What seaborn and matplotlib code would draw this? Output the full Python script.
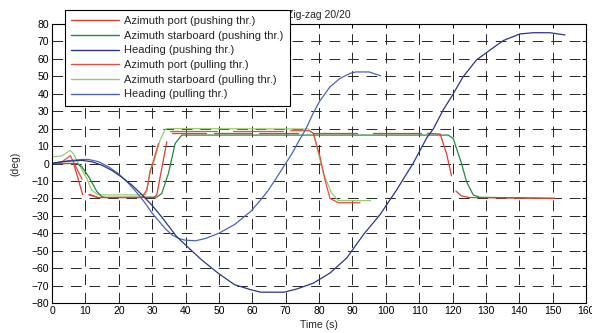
import numpy as np
import pandas as pd
import matplotlib
matplotlib.use("Agg")
import matplotlib.pyplot as plt
import seaborn as sns
from matplotlib.lines import Line2D

nan = np.nan

# ---- data (time s, deg); nan marks a gap in the trace ----
port_push_t = [0, 6.5, 9.2, nan, 11.2, 13.7, 30.5, 31.4, 34.4, nan, 36, 46, nan, 48.5, 60, nan,
               62, 73.8, nan, 78.3, 91.3, nan, 96.3, 110.7, nan, 112.5, 116.3, 118.2, 119.7, nan,
               121, 122.7, 125, 150.7]
port_push_v = [0, 0, -18, nan, -17.6, -19.5, -19.5, -18, 12.5, nan, 17.3, 17.3, nan, 17.3, 17.3, nan,
               17.3, 17.3, nan, 17.3, 17.3, nan, 17.3, 17.3, nan, 17.3, 16.9, 5.8, -7.1, nan,
               -15.8, -18.6, -19.5, -20]

stbd_push_t = [0, 7.5, 9, 11, 13.4, 14.9, 16, 31.4, 32.9, 34.9, 36.9, 38.9, 118.7, 120.2, 122.7,
               124.2, 126.2, 128.2, 150.7]
stbd_push_v = [0, 0, -2, -7.6, -16, -19, -19.5, -19.3, -17.1, -5.6, 11.5, 16.3, 16.3, 14.4, 0,
               -10.4, -18, -19.4, -20]

head_push_t = [0, 3, 6, 9, 12, 15, 18, 21, 24, 27, 30, 33, 37.3, 41, 44.8, 49.7, 54.7, 59.6, 62.6,
               69.5, 73.3, 78.3, 83.3, 88.3, 93.3, 98.3, 103.3, 108.3, 112.3, 114.3, 117.2, 119.7,
               123.2, 127.2, 131.2, 135.2, 140.2, 144.2, 149.2, 153.7]
head_push_v = [0, 1, 1.5, 1.8, 1, -1, -4, -8, -12.5, -18, -24, -31, -41.8, -48.5, -55.2, -62.8,
               -69.5, -72.4, -73.8, -73.8, -72, -68.6, -62.8, -54.2, -40.8, -29.3, -15, 0.4, 14.8,
               20, 30.7, 38.3, 49.8, 59.4, 65, 70.5, 74.3, 75, 75, 73.7]

port_pull_t = [0, 3, 5.5, 9, nan, 11, 13.7, 27, 28.4, 29.4, 31.9, nan, 35.4, 49.3, nan, 54.3, 69.3,
               nan, 71.5, 77, 78.3, 80.3, 81.8, 83.3, 85.8, 92.3]
port_pull_v = [0, 1, 4.5, -9, nan, -18, -19.5, -19.5, -15, -4.7, 11.5, nan, 18.8, 18.8, nan, 18.8,
               18.8, nan, 18.8, 18.8, 17.3, 4, -9.4, -20, -22.5, -22.5]

stbd_pull_t = [0, 2.9, 5.4, 6.4, 7.9, 10.4, 11.9, 13.4, 14.4, 27.9, 28.4, 29.4, 30.4, 32.4, 33.9,
               34.5, 76.8, 78.3, 81.3, 83.8, 85.8, 95.5]
stbd_pull_v = [3.9, 4.3, 7.5, 5.8, 0, -8.5, -15.2, -17.5, -18, -18, -16, -4, 0, 13.5, 19.5, 20,
               19.8, 17.3, -5.6, -17.1, -21.3, -21.3]

head_pull_t = [0, 3, 6, 9, 11, 14, 17, 20, 23, 26, 28, 30, 32, 34, 36, 38, 40, 43, 46, 50, 54.7,
               59.6, 62, 64.6, 67, 69.5, 72, 74, 76, 78.3, 80.3, 83.3, 86.3, 89.3, 91, 95, 98.5]
head_pull_v = [0, 1, 1.8, 2.3, 2.3, 1, -2, -6, -11.5, -18, -23, -28.5, -33, -37.5, -41, -43, -44,
               -44.3, -43, -40, -35, -27.4, -22, -15.9, -9, -1.5, 6, 13, 19.5, 29, 36, 44, 48.8,
               51.7, 52.5, 52.5, 50.3]

labels = ["Azimuth port (pushing thr.)", "Azimuth starboard (pushing thr.)", "Heading (pushing thr.)",
          "Azimuth port (pulling thr.)", "Azimuth starboard (pulling thr.)", "Heading (pulling thr.)"]

x_ticks = list(range(0, 161, 10))
y_ticks = list(range(-80, 81, 10))

# ---- styling ----
series = [
    (port_push_t, port_push_v, "#e8392f"),
    (stbd_push_t, stbd_push_v, "#228a3c"),
    (head_push_t, head_push_v, "#2b358f"),
    (port_pull_t, port_pull_v, "#f04a42"),
    (stbd_pull_t, stbd_pull_v, "#8fd06c"),
    (head_pull_t, head_pull_v, "#4a64ba"),
]
draw_order = [4, 3, 1, 0, 5, 2]

sns.set_theme(style="white")
plt.rcParams["font.family"] = ["Liberation Sans", "DejaVu Sans"]

fig = plt.figure(figsize=(5.92, 3.33), dpi=100)
ax = fig.add_axes([52 / 592, 1 - 303 / 333, (586 - 52) / 592, (303 - 24) / 333])


def to_frame(t, v):
    t = np.asarray(t, float)
    v = np.asarray(v, float)
    seg = np.cumsum(np.isnan(t))
    keep = ~np.isnan(t)
    return pd.DataFrame({"t": t[keep], "v": v[keep], "seg": seg[keep]})


for i in draw_order:
    t, v, c = series[i]
    df = to_frame(t, v)
    sns.lineplot(data=df, x="t", y="v", units="seg", estimator=None, sort=False,
                 color=c, lw=0.9, ax=ax, legend=False)

ax.set_xlim(0, 160)
ax.set_ylim(-80, 80)
ax.set_xticks(x_ticks)
ax.set_yticks(y_ticks)
ax.tick_params(direction="in", length=3, width=0.7, top=True, right=True,
               labelsize=7.5, colors="black", pad=2)
ax.grid(True, color="0.15", linestyle=(0, (11, 8)), linewidth=0.7)
for s in ax.spines.values():
    s.set_color("black")
    s.set_linewidth(0.8)
ax.set_xlabel("Time (s)", fontsize=7.5, labelpad=3)
ax.set_ylabel("(deg)", fontsize=7.5, labelpad=8)
ax.set_title("Zig-zag 20/20", fontsize=7.5, pad=4)

handles = [Line2D([], [], color=series[i][2], lw=1.0) for i in range(6)]
leg = fig.legend(handles, labels, loc="upper left", bbox_to_anchor=(65 / 592, 1 - 10 / 333),
                 bbox_transform=fig.transFigure, fontsize=8, frameon=True, fancybox=False,
                 edgecolor="black", framealpha=1, handlelength=4.3, handletextpad=0.5,
                 labelspacing=0.42, borderpad=0.55, borderaxespad=0)
leg.get_frame().set_linewidth(0.8)
leg.set_zorder(10)

fig.savefig("out.png", dpi=100)
